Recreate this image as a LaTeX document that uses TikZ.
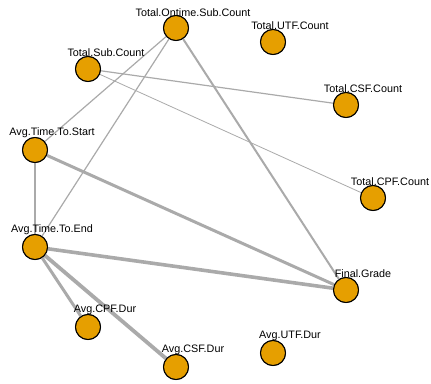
\documentclass[tikz,border=0pt]{standalone}
\usepackage{fontspec}
\setmainfont{Liberation Sans}
\definecolor{nodeor}{HTML}{E69F00}
\definecolor{edgegray}{HTML}{AAAAAA}
\begin{document}
\begin{tikzpicture}[x=0.75pt,y=-0.75pt,
  vert/.style={circle,draw=black,line width=0.75pt,fill=nodeor,minimum size=18.75pt,inner sep=0pt},
  lab/.style={font=\fontsize{8.1}{9}\selectfont,inner sep=0pt,anchor=center},
  edge/.style={draw=edgegray,line width=#1*0.75pt},
  edge/.default=1.2]
\useasboundingbox (0,0) rectangle (431,384);
\fill[white] (0,0) rectangle (431,384);
% nodes
\node[vert] (ont) at (176,28) {};
\node[vert] (sub) at (88,69) {};
\node[vert] (utf) at (273,42) {};
\node[vert] (csf) at (346,105) {};
\node[vert] (start) at (35,150) {};
\node[vert] (cpf) at (373,198) {};
\node[vert] (end) at (35,247) {};
\node[vert] (fg) at (346,290) {};
\node[vert] (cpfd) at (88,327) {};
\node[vert] (utfd) at (273,353) {};
\node[vert] (csfd) at (176,367) {};
% edges
\begin{scope}[on background layer/.style={}]
\end{scope}
\path[edge] (ont) -- (start);
\path[edge] (ont) -- (end);
\path[edge=2] (ont) -- (fg);
\path[edge] (sub) -- (csf);
\path[edge=0.8] (sub) -- (cpf);
\path[edge=2.6] (start) -- (end);
\path[edge=3] (start) -- (fg);
\path[edge=3.6] (end) -- (fg);
\path[edge=3] (end) -- (cpfd);
\path[edge=3.8] (end) -- (csfd);
% redraw nodes on top
\foreach \n in {ont,sub,utf,csf,start,cpf,end,fg,cpfd,utfd,csfd}{
  \path[fill=nodeor,draw=black,line width=0.75pt] (\n.center) circle (12.5);
}
% labels
\node[lab] (l1) at (193,13) {Total.Ontime.Sub.Count};
\node[lab] (l2) at (106,53) {Total.Sub.Count};
\node[lab] (l3) at (290,26) {Total.UTF.Count};
\node[lab] (l4) at (363,89) {Total.CSF.Count};
\node[lab] (l5) at (52,133) {Avg.Time.To.Start};
\node[lab] (l6) at (390,182) {Total.CPF.Count};
\node[lab] (l7) at (52,230) {Avg.Time.To.End};
\node[lab] (l8) at (363,274) {Final.Grade};
\node[lab] (l9) at (105,310) {Avg.CPF.Dur};
\node[lab] (l10) at (290,336) {Avg.UTF.Dur};
\node[lab] (l11) at (193,350) {Avg.CSF.Dur};
\end{tikzpicture}
\end{document}
